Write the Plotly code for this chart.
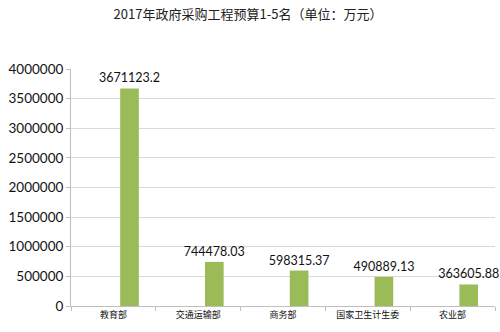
import plotly.graph_objects as go

categories = ["教育部", "交通运输部", "商务部", "国家卫生计生委", "农业部"]
values = [3671123.2, 744478.03, 598315.37, 490889.13, 363605.88]
value_labels = ["3671123.2", "744478.03", "598315.37", "490889.13", "363605.88"]
y_ticks = [0, 500000, 1000000, 1500000, 2000000, 2500000, 3000000, 3500000, 4000000]

fig = go.Figure()
fig.add_trace(go.Bar(
    x=categories, y=values,
    marker=dict(color="#9BBB59", line=dict(width=0)),
    width=0.22, offset=0.08,
    text=value_labels, textposition="outside", cliponaxis=False,
    constraintext="none",
    textfont=dict(family="Lato", size=12.5, color="#111"),
    hoverinfo="skip",
))

fig.update_layout(
    width=500, height=332,
    margin=dict(l=71, r=5, t=69, b=26),
    paper_bgcolor="white", plot_bgcolor="white",
    showlegend=False,
    title=dict(text="2017年政府采购工程预算1-5名（单位：万元）", x=0.496, xanchor="center",
               y=0.955, yanchor="middle",
               font=dict(family="Noto Sans CJK SC", size=13, color="#222")),
    xaxis=dict(type="category", showgrid=False, showline=True, linecolor="#bfbfbf",
               ticks="outside", tickson="boundaries", ticklen=4, tickcolor="#bfbfbf",
               tickfont=dict(family="Noto Sans CJK SC", size=9, color="#111")),
    yaxis=dict(range=[0, 4000000], tickvals=y_ticks, ticktext=[str(v) for v in y_ticks],
               showgrid=True, gridcolor="#d9d9d9", showline=True, linecolor="#bfbfbf",
               ticks="outside", ticklen=4, tickcolor="#bfbfbf", zeroline=False,
               tickfont=dict(family="Lato", size=13.5, color="#111")),
)
fig.write_html("out.html")
